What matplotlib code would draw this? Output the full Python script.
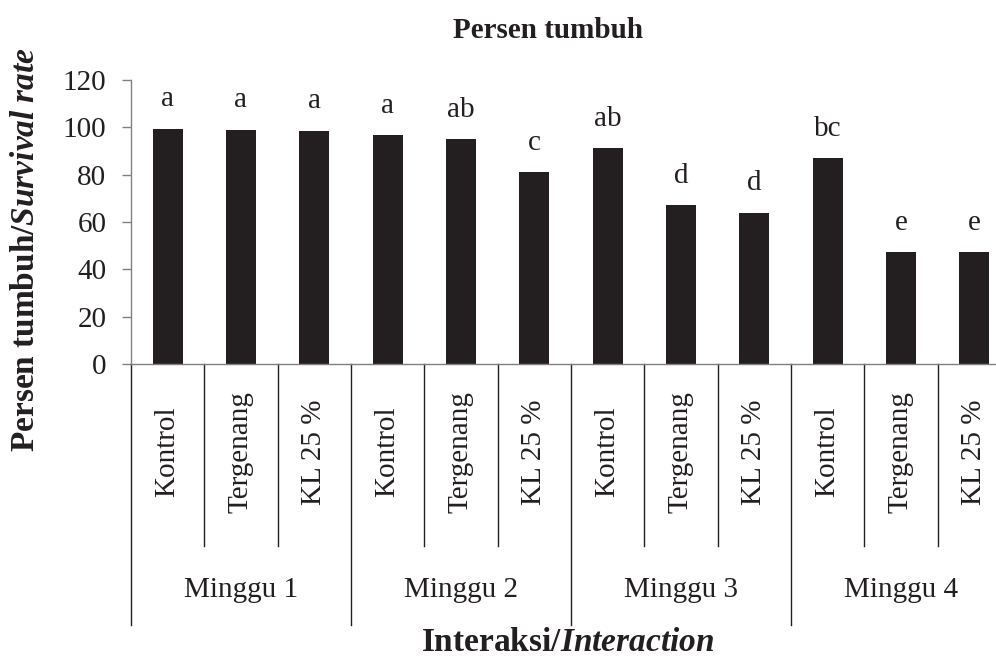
import matplotlib
matplotlib.use('Agg')
import matplotlib.pyplot as plt
import matplotlib.transforms as mtransforms

# data
weeks = ['Minggu 1', 'Minggu 2', 'Minggu 3', 'Minggu 4']
treatments = ['Kontrol', 'Tergenang', 'KL 25 %']
survival = [99.5, 99.0, 98.6,
            96.6, 95.0, 81.2,
            91.2, 67.0, 64.0,
            87.0, 47.3, 47.3]
letters = ['a', 'a', 'a',
           'a', 'ab', 'c',
           'ab', 'd', 'd',
           'bc', 'e', 'e']
yticks = [0, 20, 40, 60, 80, 100, 120]

plt.rcParams['font.family'] = ['Liberation Serif', 'DejaVu Serif']
plt.rcParams['mathtext.fontset'] = 'custom'
plt.rcParams['mathtext.rm'] = 'Liberation Serif'
plt.rcParams['mathtext.it'] = 'Liberation Serif:italic'
plt.rcParams['mathtext.bf'] = 'Liberation Serif:bold'
plt.rcParams['mathtext.bfit'] = 'Liberation Serif:bold:italic'

ink = '#231f20'
line_col = '#808080'
fs = 21
fs_axis = 24

fig = plt.figure(figsize=(9.96, 6.59), dpi=100)
ax = fig.add_axes([0.1315, 0.4476, 0.8835, 0.431])

n = len(survival)
x = list(range(n))
ax.bar(x, survival, width=0.41, color=ink)
for xi, v, lab in zip(x, survival, letters):
    ax.annotate(lab, (xi, v), xytext=(0, 16), textcoords='offset points',
                ha='center', va='baseline', fontsize=fs, color=ink)

ax.set_xlim(-0.5, n - 0.5)
ax.set_ylim(0, 120)
ax.set_yticks(yticks)
ax.tick_params(axis='y', direction='out', length=6.7, width=1, color=line_col,
               labelsize=fs, labelcolor=ink, pad=11)
ax.set_xticks([])
for s in ['top', 'right']:
    ax.spines[s].set_visible(False)
for s in ['left', 'bottom']:
    ax.spines[s].set_color(line_col)
    ax.spines[s].set_linewidth(1)

trans = mtransforms.blended_transform_factory(ax.transData, ax.transAxes)
# separators below axis
for b in range(n + 1):
    xb = b - 0.5
    y_end = -0.919 if b % 3 == 0 else -0.641
    ax.plot([xb, xb], [0, y_end], transform=trans, color=ink, lw=1, clip_on=False)

# category labels
for i in range(n):
    ax.text(i, -0.31, treatments[i % 3], transform=trans, rotation=90,
            ha='center', va='center', fontsize=fs, color=ink)
for g, w in enumerate(weeks):
    ax.text(g * 3 + 1, -0.796, w, transform=trans, ha='center', va='center',
            fontsize=fs, color=ink)

fig.text(0.550, 0.954, 'Persen tumbuh', ha='center', va='center',
         fontsize=fs, fontweight='bold', color=ink)
fig.text(0.570, 0.024, r'$\mathbf{Interaksi/}\mathbfit{Interaction}$',
         ha='center', va='center', fontsize=fs_axis, color=ink)
fig.text(0.026, 0.621, r'$\mathbf{Persen\ tumbuh/}\mathbfit{Survival\ rate}$',
         rotation=90, ha='center', va='center', fontsize=fs_axis, color=ink)

fig.savefig('out.png', dpi=100)
